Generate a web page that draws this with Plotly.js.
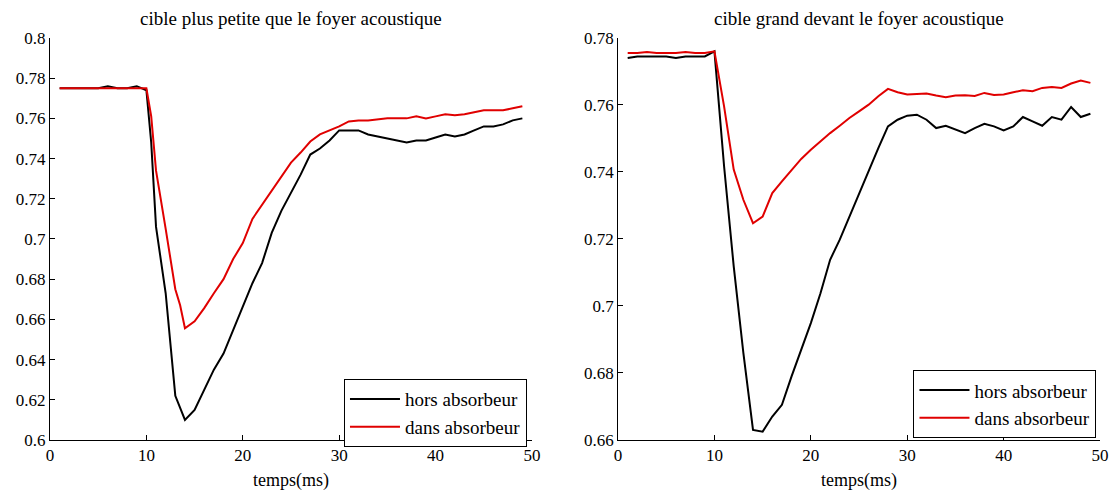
<!DOCTYPE html>
<html>
<head>
<meta charset="utf-8">
<script src="https://cdn.plot.ly/plotly-3.0.1.min.js"></script>
<style>html,body{margin:0;padding:0;background:#fff;}#chart{width:1116px;height:493px;}</style>
</head>
<body>
<div id="chart"></div>
<script>
// ---- Data ----
const timeL = [1,2,3,4,5,6,7,8,9,10,10.5,11,12,13,13.5,14,15,16,17,18,19,20,21,22,23,24,25,26,27,28,29,30,31,32,33,34,35,36,37,38,39,40,41,42,43,44,45,46,47,48,49];
const horsL = [0.775,0.775,0.775,0.775,0.775,0.776,0.775,0.775,0.776,0.774,0.748,0.706,0.673,0.622,0.616,0.610,0.615,0.625,0.635,0.643,0.655,0.666,0.678,0.688,0.703,0.714,0.723,0.732,0.742,0.745,0.749,0.754,0.754,0.754,0.752,0.751,0.750,0.749,0.748,0.749,0.749,0.7505,0.752,0.751,0.752,0.754,0.756,0.756,0.757,0.759,0.760];
const dansL = [0.775,0.775,0.775,0.775,0.775,0.775,0.775,0.775,0.775,0.775,0.761,0.734,0.705,0.675,0.667,0.6556,0.659,0.6656,0.673,0.680,0.690,0.698,0.710,0.717,0.7245,0.731,0.738,0.743,0.7485,0.752,0.754,0.756,0.7585,0.759,0.759,0.7595,0.760,0.760,0.760,0.761,0.760,0.761,0.762,0.7615,0.762,0.763,0.764,0.764,0.764,0.765,0.766];

const timeR = [1,2,3,4,5,6,7,8,9,10,11,12,13,14,15,16,17,18,19,20,21,22,23,24,25,26,27,28,29,30,31,32,33,34,35,36,37,38,39,40,41,42,43,44,45,46,47,48,49];
const horsR = [0.774,0.7745,0.7745,0.7745,0.7745,0.774,0.7745,0.7745,0.7745,0.776,0.7417,0.7118,0.686,0.663,0.6625,0.667,0.6705,0.679,0.687,0.6949,0.7038,0.7138,0.7198,0.7267,0.7337,0.7407,0.7471,0.7536,0.7556,0.7568,0.7571,0.7556,0.7531,0.7538,0.7526,0.7516,0.7531,0.7544,0.7536,0.7524,0.7536,0.7564,0.7551,0.7538,0.7564,0.7556,0.7594,0.7564,0.7574];
const dansR = [0.7755,0.7755,0.7758,0.7755,0.7755,0.7755,0.7758,0.7755,0.7755,0.776,0.7596,0.7407,0.7317,0.7247,0.7267,0.7337,0.7372,0.7407,0.7439,0.7466,0.7491,0.7516,0.7538,0.7561,0.7581,0.7601,0.7626,0.7648,0.7638,0.7631,0.7633,0.7634,0.7628,0.7623,0.7628,0.7629,0.7627,0.7636,0.7630,0.7631,0.7638,0.7644,0.7641,0.7651,0.7654,0.7651,0.7664,0.7673,0.7666];

const titleL = "cible plus petite que le foyer acoustique";
const titleR = "cible grand devant le foyer acoustique";
const xLabel = "temps(ms)";
const nameHors = "hors absorbeur";
const nameDans = "dans absorbeur";

// ---- Styles ----
const FONT = "Liberation Serif";
const BLACK = "#000000";
const RED = "#e00000";

const traces = [
  {x: timeL, y: horsL, name: nameHors, type: "scatter", mode: "lines", line: {color: BLACK, width: 2}, xaxis: "x", yaxis: "y", legend: "legend"},
  {x: timeL, y: dansL, name: nameDans, type: "scatter", mode: "lines", line: {color: RED, width: 2}, xaxis: "x", yaxis: "y", legend: "legend"},
  {x: timeR, y: horsR, name: nameHors, type: "scatter", mode: "lines", line: {color: BLACK, width: 2}, xaxis: "x2", yaxis: "y2", legend: "legend2"},
  {x: timeR, y: dansR, name: nameDans, type: "scatter", mode: "lines", line: {color: RED, width: 2}, xaxis: "x2", yaxis: "y2", legend: "legend2"}
];

function axisCommon() {
  return {
    showgrid: false, zeroline: false, showline: true, linecolor: "#000", linewidth: 1,
    ticks: "inside", ticklen: 5, tickcolor: "#000", tickwidth: 1,
    tickfont: {family: FONT, size: 17, color: "#000"}, mirror: false
  };
}

function legendCommon() {
  return {
    bgcolor: "#fff", bordercolor: "#000", borderwidth: 1,
    font: {family: FONT, size: 19, color: "#000"},
    xanchor: "right", yanchor: "top", tracegroupgap: 0, itemwidth: 50
  };
}

const layout = {
  width: 1116, height: 493,
  margin: {l: 0, r: 0, t: 0, b: 0},
  paper_bgcolor: "#fff", plot_bgcolor: "#fff",
  showlegend: true,
  xaxis: Object.assign(axisCommon(), {domain: [0.0448, 0.4767], range: [0, 50], dtick: 10, anchor: "y",
    title: {text: xLabel, font: {family: FONT, size: 18, color: "#000"}, standoff: 8}}),
  yaxis: Object.assign(axisCommon(), {domain: [0.1075, 0.923], range: [0.6, 0.8], dtick: 0.02, anchor: "x"}),
  xaxis2: Object.assign(axisCommon(), {domain: [0.5538, 0.9857], range: [0, 50], dtick: 10, anchor: "y2",
    title: {text: xLabel, font: {family: FONT, size: 18, color: "#000"}, standoff: 8}}),
  yaxis2: Object.assign(axisCommon(), {domain: [0.1075, 0.923], range: [0.66, 0.78], dtick: 0.02, anchor: "x2"}),
  legend: Object.assign(legendCommon(), {x: 0.4722, y: 0.231}),
  legend2: Object.assign(legendCommon(), {x: 0.9825, y: 0.249}),
  annotations: [
    {text: titleL, xref: "paper", yref: "paper", x: 0.2608, y: 0.963, xanchor: "center", yanchor: "middle", showarrow: false,
      font: {family: FONT, size: 19, color: "#000"}},
    {text: titleR, xref: "paper", yref: "paper", x: 0.7698, y: 0.963, xanchor: "center", yanchor: "middle", showarrow: false,
      font: {family: FONT, size: 19, color: "#000"}}
  ]
};

Plotly.newPlot("chart", traces, layout, {displayModeBar: false, staticPlot: true});
</script>
</body>
</html>
